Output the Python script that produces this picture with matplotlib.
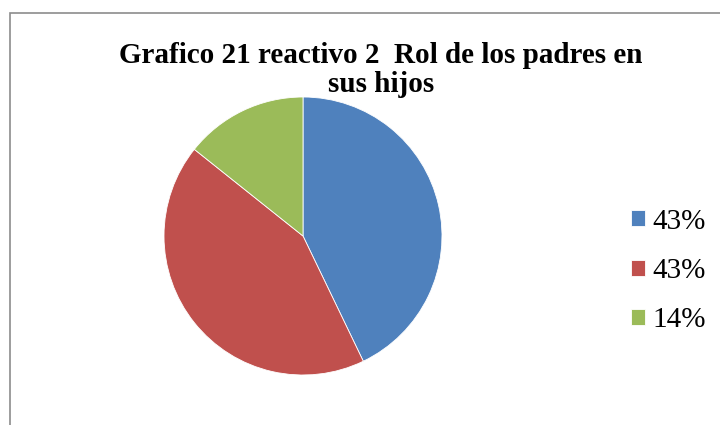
import matplotlib
matplotlib.use("Agg")
import matplotlib.pyplot as plt
from matplotlib.patches import Rectangle

labels = ["43%", "43%", "14%"]
values = [3, 3, 1]
colors = ["#4F81BD", "#C0504D", "#9BBB59"]
title = "Grafico 21 reactivo 2  Rol de los padres en\nsus hijos"

W, H = 720, 425
fig = plt.figure(figsize=(W / 100, H / 100), dpi=100)
fig.patch.set_facecolor("white")

# chart border (extends past right and bottom)
fig.add_artist(Rectangle((9.5 / W, -0.1), 1.2, (H - 12.5) / H + 0.1,
                         transform=fig.transFigure, fill=False,
                         edgecolor="#8C8C8C", linewidth=1.2))

cx, cy, r = 303, 236, 139
ax = fig.add_axes([(cx - r) / W, (H - cy - r) / H, 2 * r / W, 2 * r / H])
wedges, _ = ax.pie(values, colors=colors, startangle=90, counterclock=False,
                   wedgeprops=dict(linewidth=0.6, edgecolor="white"))
ax.set_aspect("equal")
ax.set_xlim(-1, 1)
ax.set_ylim(-1, 1)

fig.text(381 / W, 1 - 92 / H, title, ha="center", va="baseline",
         fontsize=21, fontweight="bold", family="Liberation Serif",
         linespacing=1.08, multialignment="center")

leg = fig.legend(wedges, labels, loc="center left",
                 bbox_to_anchor=(631 / W, 1 - 271 / H),
                 frameon=False, prop=dict(family="Liberation Serif", size=21),
                 handlelength=0.48, handleheight=0.48, handletextpad=0.24,
                 labelspacing=0.8, borderpad=0, borderaxespad=0)

fig.savefig("out.png", dpi=100, facecolor="white")
